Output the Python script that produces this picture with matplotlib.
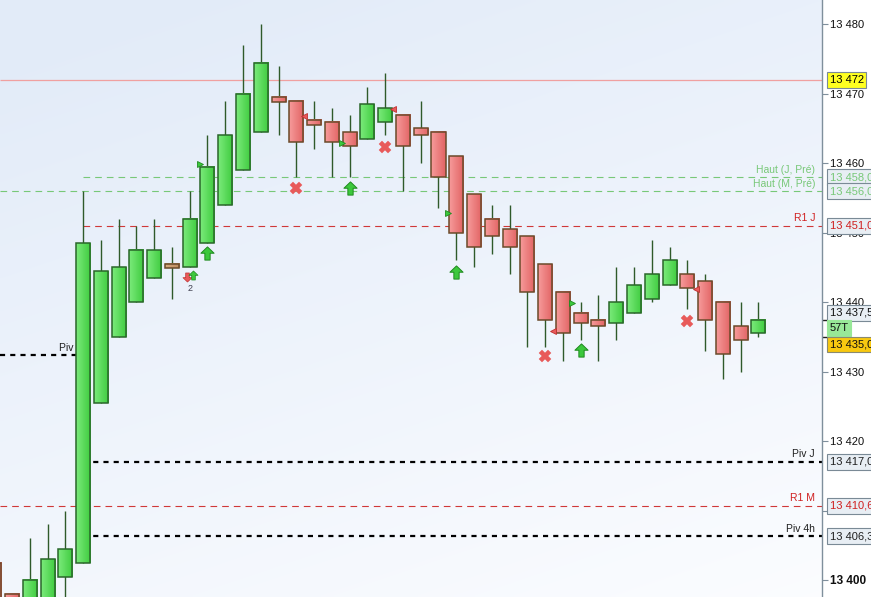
import numpy as np
import matplotlib
matplotlib.use('Agg')
import matplotlib.pyplot as plt
from matplotlib.patches import Rectangle
from matplotlib.path import Path
import matplotlib.transforms as mtransforms
from matplotlib.colors import to_rgb

plt.rcParams['font.family'] = ['Liberation Sans', 'DejaVu Sans']

# ---------------- data ----------------
opens = [13402.5, 13398.0, 13396.5, 13397.0, 13400.5, 13402.5, 13425.5, 13435.0, 13440.0, 13443.5,
         13445.25, 13445.0, 13448.5, 13454.0, 13459.0, 13464.5, 13469.5, 13469.0, 13466.25, 13466.0,
         13464.5, 13463.5, 13466.0, 13467.0, 13465.0, 13464.5, 13461.0, 13455.5, 13452.0, 13450.5,
         13449.5, 13445.5, 13441.5, 13438.5, 13437.5, 13437.0, 13438.5, 13440.5, 13442.5, 13444.0,
         13443.0, 13440.0, 13436.5, 13435.5]
closes = [13396.0, 13396.0, 13400.0, 13403.0, 13404.5, 13448.5, 13444.5, 13445.0, 13447.5, 13447.5,
          13445.25, 13452.0, 13459.5, 13464.0, 13470.0, 13474.5, 13468.75, 13463.0, 13465.5, 13463.0,
          13462.5, 13468.5, 13468.0, 13462.5, 13464.0, 13458.0, 13450.0, 13448.0, 13449.5, 13448.0,
          13441.5, 13437.5, 13435.5, 13437.0, 13436.5, 13440.0, 13442.5, 13444.0, 13446.0, 13442.0,
          13437.5, 13432.5, 13434.5, 13437.5]
highs = [13402.5, 13398.0, 13406.0, 13408.0, 13410.0, 13456.0, 13449.0, 13452.0, 13451.0, 13452.0,
         13448.0, 13456.0, 13464.0, 13469.0, 13477.0, 13480.0, 13474.0, 13469.0, 13469.0, 13468.0,
         13467.0, 13471.0, 13473.0, 13467.0, 13469.0, 13464.5, 13461.0, 13455.5, 13454.0, 13454.0,
         13449.5, 13445.5, 13441.5, 13440.0, 13441.0, 13445.0, 13445.0, 13449.0, 13448.0, 13446.0,
         13444.0, 13440.0, 13440.0, 13440.0]
lows = [13394.0, 13394.0, 13395.0, 13396.0, 13396.0, 13402.5, 13425.5, 13435.0, 13440.0, 13443.5,
        13440.5, 13445.0, 13448.5, 13454.0, 13459.0, 13464.5, 13464.0, 13458.0, 13462.0, 13458.0,
        13458.0, 13463.5, 13464.0, 13456.0, 13460.0, 13453.5, 13446.0, 13445.0, 13447.0, 13444.0,
        13433.5, 13433.5, 13431.5, 13434.5, 13431.5, 13434.5, 13438.5, 13440.0, 13442.5, 13439.0,
        13433.0, 13429.0, 13430.0, 13435.0]

yticks = [13400, 13410, 13420, 13430, 13440, 13450, 13460, 13470, 13480]

level_values = [13472.0, 13458.0, 13456.0, 13451.0, 13417.0, 13410.67, 13406.3]
level_names = ['', 'Haut (J, Pré)', 'Haut (M, Pré)', 'R1 J', 'Piv J', 'R1 M', 'Piv 4h']
level_box_text = ['13 472', '13 458,00', '13 456,00', '13 451,00', '13 417,00', '13 410,67', '13 406,33']
level_start = [None, 5, None, 5, 5, None, 5]
level_kind = ['salmon', 'green', 'green', 'red', 'black', 'red', 'black']

prev_pivot_value = 13432.4
prev_pivot_name = 'Piv J'

last_price = 13437.5
bid_price = 13435.0
tick_count = '57T'

buy_idx = [12, 20, 26, 33]
buy_price = [13447.1, 13456.4, 13444.3, 13433.1]
sell_x_idx = [17, 22, 31, 39]
sell_x_price = [13456.4, 13462.3, 13432.2, 13437.3]
tri_r_idx = [11.58, 19.57, 25.54, 32.52]
tri_r_price = [13459.9, 13462.9, 13452.8, 13439.9]
tri_l_idx = [17.43, 22.44, 31.45, 39.49]
tri_l_price = [13466.8, 13467.8, 13435.8, 13441.9]
small_down_idx, small_down_price = 10.85, 13443.6
small_up_idx, small_up_price = 11.19, 13443.9
small_count_idx, small_count_price, small_count_text = 11.02, 13441.9, '2'

# ---------------- figure ----------------
W, H = 871, 597
fig = plt.figure(figsize=(W / 100, H / 100), dpi=100)
fig.patch.set_facecolor('white')
ax = fig.add_axes([0, 0, 822 / W, 1])

xlim = (0.326, 46.58)
ylim = (13397.55, 13483.5)
ax.set_xlim(*xlim)
ax.set_ylim(*ylim)

# background gradient
gx = np.linspace(0, 1, 200)
gy = np.linspace(0, 1, 200)
GX, GY = np.meshgrid(gx, gy)
t = np.clip(0.75 * (1 - GY) + 0.35 * (1 - GX), 0, 1)  # row 0 = top
top = np.array([0.985, 0.99, 1.0])
bot = np.array([0.89, 0.925, 0.975])
img = top[None, None, :] * (1 - t[..., None]) + bot[None, None, :] * t[..., None]
ax.imshow(img, extent=(xlim[0], xlim[1], ylim[0], ylim[1]), origin='upper',
          aspect='auto', zorder=0, interpolation='bilinear')

# ---------------- levels ----------------
colors = {'salmon': '#f0a0a0', 'green': '#78c878', 'red': '#d03838', 'black': '#000000'}
styles = {'salmon': dict(lw=0.9, ls='-'),
          'green': dict(lw=0.8, ls=(0, (6, 4.5))),
          'red': dict(lw=0.8, ls=(0, (6, 4.5))),
          'black': dict(lw=1.6, ls=(0, (2.3, 2.3)))}
text_colors = {'salmon': '#d04040', 'green': '#78c878', 'red': '#d02020', 'black': '#202020'}

blend = mtransforms.blended_transform_factory(ax.transAxes, ax.transData)
for v, name, bt, st, kind in zip(level_values, level_names, level_box_text, level_start, level_kind):
    x0 = xlim[0] if st is None else st
    ax.plot([x0, xlim[1]], [v, v], color=colors[kind], zorder=1, solid_capstyle='butt',
            **styles[kind])
    if name:
        ax.text(0.9915, v + 0.35, name, transform=blend, ha='right', va='bottom',
                fontsize=7.5, color=text_colors[kind], zorder=2)

ax.plot([xlim[0], 5], [prev_pivot_value] * 2, color='black', zorder=1, **styles['black'])
ax.text(4.9, prev_pivot_value + 0.35, prev_pivot_name, ha='right', va='bottom',
        fontsize=7.5, color='#202020', zorder=2)

# ---------------- candles ----------------
def hgrad(c_left, c_right, n=16):
    a = np.array(to_rgb(c_left))
    b = np.array(to_rgb(c_right))
    s = np.linspace(0, 1, n)
    return (a[None, :] * (1 - s[:, None]) + b[None, :] * s[:, None])[None, :, :]

green_grad = hgrad('#7aea7a', '#40cc40')
red_grad = hgrad('#f69a9a', '#e26464')
doji_grad = hgrad('#d8aa80', '#bc8a5c')

body_w = 0.79
for i, (o, h, l, c) in enumerate(zip(opens, highs, lows, closes)):
    if c > o:
        grad, ec = green_grad, '#2a662a'
    elif c < o:
        grad, ec = red_grad, '#6a4a2a'
    else:
        grad, ec = doji_grad, '#6a4a2a'
    ax.plot([i, i], [l, h], color='#2f5a2a', lw=1.0, zorder=3, solid_capstyle='butt')
    lo, hi = min(o, c), max(o, c)
    if hi - lo < 0.6:
        mid = (hi + lo) / 2
        lo, hi = mid - 0.3, mid + 0.3
    im = ax.imshow(grad, extent=(i - body_w / 2, i + body_w / 2, lo, hi), aspect='auto',
                   zorder=4, interpolation='bilinear')
    ax.add_patch(Rectangle((i - body_w / 2, lo), body_w, hi - lo, facecolor='none',
                           edgecolor=ec, lw=1.1, zorder=4.5))

ax.set_xlim(*xlim)
ax.set_ylim(*ylim)

# ---------------- signals ----------------
arrow = Path([(-0.2, -0.5), (0.2, -0.5), (0.2, 0.02), (0.5, 0.02), (0.0, 0.5),
              (-0.5, 0.02), (-0.2, 0.02), (-0.2, -0.5)],
             [Path.MOVETO] + [Path.LINETO] * 6 + [Path.CLOSEPOLY])
down_arrow = Path([(x, -y) for x, y in arrow.vertices], arrow.codes)

ax.plot(buy_idx, buy_price, ls='none', marker=arrow, ms=9.5, mfc='#3cc83c',
        mec='#1f8a1f', mew=0.7, zorder=5)
ax.plot(sell_x_idx, sell_x_price, ls='none', marker='X', ms=8.5, mfc='#e85a5a',
        mec='#e85a5a', mew=0.3, zorder=5)
ax.plot(tri_r_idx, tri_r_price, ls='none', marker='>', ms=4.5, mfc='#3cc83c',
        mec='#1f8a1f', mew=0.6, zorder=5)
ax.plot(tri_l_idx, tri_l_price, ls='none', marker='<', ms=4.5, mfc='#e85a5a',
        mec='#c03030', mew=0.6, zorder=5)
ax.plot([small_down_idx], [small_down_price], ls='none', marker=down_arrow, ms=6.5,
        mfc='#e85a5a', mec='#c03030', mew=0.5, zorder=5)
ax.plot([small_up_idx], [small_up_price], ls='none', marker=arrow, ms=6.5,
        mfc='#3cc83c', mec='#1f8a1f', mew=0.5, zorder=5)
ax.text(small_count_idx, small_count_price, small_count_text, ha='center', va='center',
        fontsize=6.5, color='#404050', zorder=5)

# ---------------- axis ----------------
for s in ['left', 'top', 'bottom']:
    ax.spines[s].set_visible(False)
ax.spines['right'].set_color('#7f8f9c')
ax.spines['right'].set_linewidth(1.0)
ax.set_xticks([])
ax.yaxis.tick_right()
ax.set_yticks(yticks, [f"{v // 1000} {v % 1000:03d}" for v in yticks])
ax.set_yticks([last_price, bid_price], minor=True)
ax.tick_params(axis='y', which='major', direction='out', length=4, width=0.8, color='#7f8f9c',
               labelsize=8, labelcolor='#101010', pad=2)
ax.tick_params(axis='y', which='minor', direction='out', length=4, width=1.0, color='#202020')
for lab in ax.get_yticklabels():
    if lab.get_text() == '13 400':
        lab.set_fontweight('bold')
        lab.set_fontsize(8.5)

# ---------------- price boxes ----------------
bx = 1.0 + 7.5 / 822
box_fc = {'salmon': '#ffff20', 'green': '#e8eef4', 'red': '#e8eef4', 'black': '#e8eef4'}
box_tc = {'salmon': '#000000', 'green': '#78c878', 'red': '#d02020', 'black': '#202020'}
for v, bt, kind in zip(level_values, level_box_text, level_kind):
    ax.text(bx, v, bt, transform=blend, ha='left', va='center', fontsize=8,
            color=box_tc[kind], zorder=10, clip_on=False,
            bbox=dict(boxstyle='square,pad=0.25', fc=box_fc[kind], ec='#7a8a96', lw=0.8))

ax.text(bx, last_price + 0.95, f"{int(last_price) // 1000} {int(last_price) % 1000:03d},50",
        transform=blend, ha='left', va='center', fontsize=8, color='#101010', zorder=10,
        clip_on=False, bbox=dict(boxstyle='square,pad=0.25', fc='#e8eef4', ec='#7a8a96', lw=0.8))
ax.text(bx, last_price - 1.25, tick_count, transform=blend, ha='left', va='center',
        fontsize=8, color='#101010', zorder=10, clip_on=False,
        bbox=dict(boxstyle='square,pad=0.25', fc='#98e898', ec='#98e898', lw=0.8))
ax.text(bx, bid_price - 1.1, f"{int(bid_price) // 1000} {int(bid_price) % 1000:03d},00",
        transform=blend, ha='left', va='center', fontsize=8, color='#101010', zorder=10,
        clip_on=False, bbox=dict(boxstyle='square,pad=0.25', fc='#f8c810', ec='#8a8a70', lw=0.8))

fig.savefig('out.png', dpi=100)
